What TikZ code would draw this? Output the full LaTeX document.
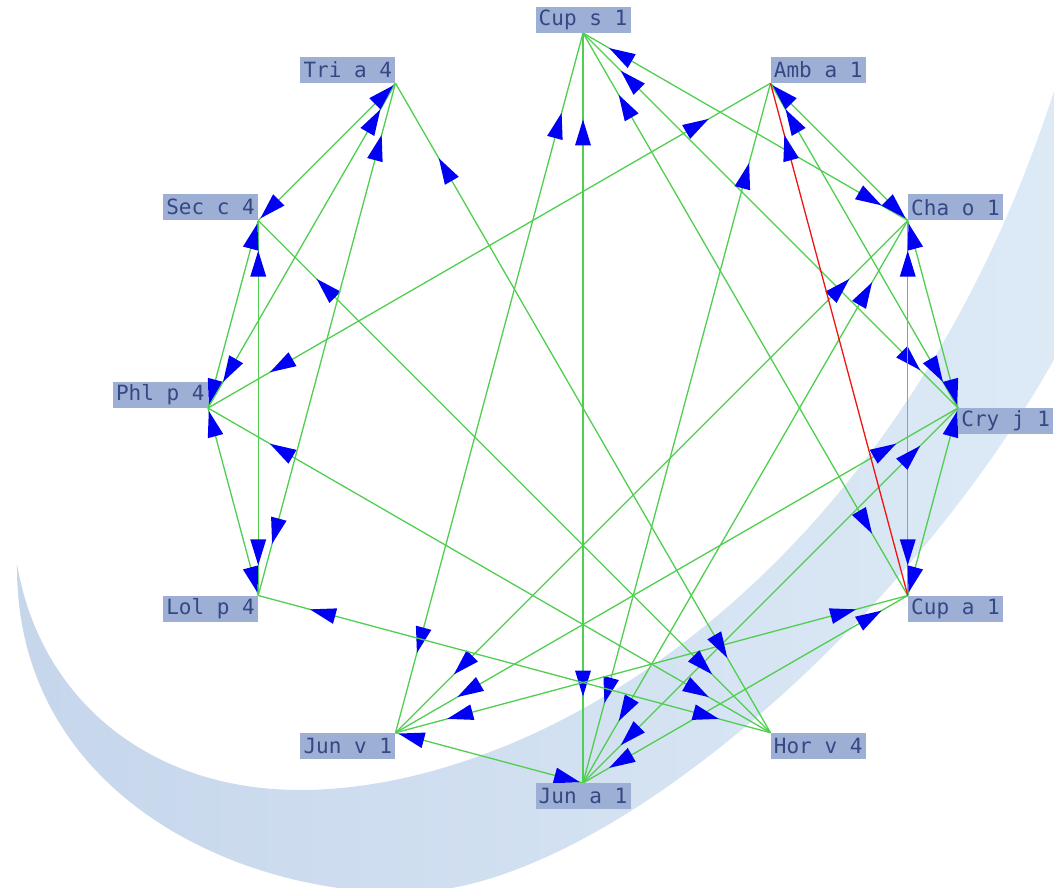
\documentclass[tikz,border=0pt]{standalone}
\usepackage{fontspec}
\newfontfamily\allergenfont{DejaVu Sans Mono}
\usetikzlibrary{decorations.markings}

\definecolor{linkgreen}{RGB}{80,206,80}
\definecolor{linkred}{RGB}{240,20,20}
\definecolor{tipblue}{RGB}{0,0,245}
\definecolor{boxfill}{RGB}{158,175,214}
\definecolor{boxtext}{RGB}{52,72,132}
\definecolor{swooshdark}{RGB}{198,214,235}
\definecolor{swooshlight}{RGB}{222,235,247}

\tikzset{
  allergen/.style={fill=boxfill,text=boxtext,inner sep=0pt,
    minimum width=95pt,minimum height=26pt,
    font=\allergenfont\fontsize{21}{21}\selectfont},
  link/.style={linkgreen,line width=1.3pt},
  redlink/.style={linkred,line width=1.3pt},
  % blue heads sit 15% in from an end, tip pointing at that end
  twoway/.style={postaction={decorate},decoration={markings,
    mark=at position {0.15*\pgfdecoratedpathlength-\tiplen} with
      {\fill[tipblue] (0,0) -- (\tiplen,\tipwid) -- (\tiplen,-\tipwid) -- cycle;},
    mark=at position {0.85*\pgfdecoratedpathlength+\tiplen} with
      {\fill[tipblue] (0,0) -- (-\tiplen,\tipwid) -- (-\tiplen,-\tipwid) -- cycle;}}},
  oneway/.style={postaction={decorate},decoration={markings,
    mark=at position {0.85*\pgfdecoratedpathlength+\tiplen} with
      {\fill[tipblue] (0,0) -- (-\tiplen,\tipwid) -- (-\tiplen,-\tipwid) -- cycle;}}}
}

\begin{document}
\begin{tikzpicture}[x=1pt,y=1pt]
  % Configurable parameters
  \def\radius{375}
  \def\tiplen{26pt}
  \def\tipwid{8pt}
  %
  \useasboundingbox (-583,-480) rectangle (471,408);
  %
  % Background swoosh (picture coordinates, y down)
  \begin{scope}[shift={(-583,408)},yscale=-1]
    \shade[left color=swooshdark,right color=swooshlight]
      (17,564) .. controls (15,800) and (250,900) .. (420,892)
      .. controls (620,880) and (930,600) .. (1070,330)
      -- (1110,200) -- (1075,20)
      .. controls (930,560) and (550,790) .. (300,790)
      .. controls (150,790) and (40,700) .. (17,564) -- cycle;
  \end{scope}
  %
  % Allergen positions
  \coordinate (cryj1) at (0:\radius);
  \coordinate (chao1) at (30:\radius);
  \coordinate (amba1) at (60:\radius);
  \coordinate (cups1) at (90:\radius);
  \coordinate (tria4) at (120:\radius);
  \coordinate (secc4) at (150:\radius);
  \coordinate (phlp4) at (180:\radius);
  \coordinate (lolp4) at (210:\radius);
  \coordinate (junv1) at (240:\radius);
  \coordinate (juna1) at (270:\radius);
  \coordinate (horv4) at (300:\radius);
  \coordinate (cupa1) at (330:\radius);
  %
  % Cross-reactions
  \draw[link,twoway] (cups1) -- (junv1);
  \draw[link,twoway] (cups1) -- (juna1);
  \draw[link,twoway] (cups1) -- (cupa1);
  \draw[link,twoway] (cups1) -- (cryj1);
  \draw[link,twoway] (cups1) -- (chao1);
  \draw[link,twoway] (amba1) -- (phlp4);
  \draw[link,twoway] (amba1) -- (juna1);
  \draw[link,twoway] (amba1) -- (cryj1);
  \draw[link,twoway] (amba1) -- (chao1);
  \draw[link,twoway] (chao1) -- (junv1);
  \draw[link,twoway] (chao1) -- (juna1);
  \draw[link,twoway] (chao1) -- (cupa1);
  \draw[link,twoway] (chao1) -- (cryj1);
  \draw[link,twoway] (cryj1) -- (junv1);
  \draw[link,twoway] (cryj1) -- (juna1);
  \draw[link,twoway] (cryj1) -- (cupa1);
  \draw[link,twoway] (cupa1) -- (junv1);
  \draw[link,twoway] (cupa1) -- (juna1);
  \draw[link,twoway] (juna1) -- (junv1);
  \draw[link,twoway] (horv4) -- (tria4);
  \draw[link,twoway] (horv4) -- (secc4);
  \draw[link,twoway] (horv4) -- (phlp4);
  \draw[link,twoway] (horv4) -- (lolp4);
  \draw[link,twoway] (lolp4) -- (phlp4);
  \draw[link,twoway] (lolp4) -- (secc4);
  \draw[link,twoway] (lolp4) -- (tria4);
  \draw[link,twoway] (phlp4) -- (secc4);
  \draw[link,twoway] (phlp4) -- (tria4);
  \draw[link,twoway] (secc4) -- (tria4);
  \draw[redlink,oneway] (cupa1) -- (amba1);
  %
  % Labels
  \node[allergen,anchor=north west] (cryj1-lab) at (cryj1) {Cry j 1};
  \node[allergen,anchor=south west] (chao1-lab) at (chao1) {Cha o 1};
  \node[allergen,anchor=south west] (amba1-lab) at (amba1) {Amb a 1};
  \node[allergen,anchor=south] (cups1-lab) at (cups1) {Cup s 1};
  \node[allergen,anchor=south east] (tria4-lab) at (tria4) {Tri a 4};
  \node[allergen,anchor=south east] (secc4-lab) at (secc4) {Sec c 4};
  \node[allergen,anchor=south east] (phlp4-lab) at (phlp4) {Phl p 4};
  \node[allergen,anchor=north east] (lolp4-lab) at (lolp4) {Lol p 4};
  \node[allergen,anchor=north east] (junv1-lab) at (junv1) {Jun v 1};
  \node[allergen,anchor=north] (juna1-lab) at (juna1) {Jun a 1};
  \node[allergen,anchor=north west] (horv4-lab) at (horv4) {Hor v 4};
  \node[allergen,anchor=north west] (cupa1-lab) at (cupa1) {Cup a 1};
  %
\end{tikzpicture}
\end{document}
